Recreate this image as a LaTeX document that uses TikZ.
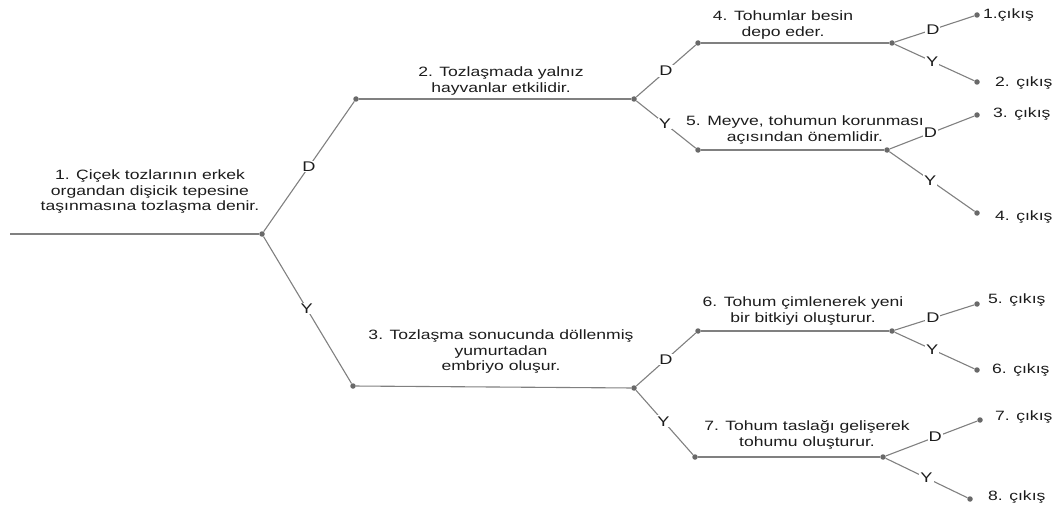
\documentclass[tikz,border=0pt]{standalone}
\usepackage{fontspec}
\setmainfont[FakeStretch=1.3]{Liberation Sans}
\definecolor{linegray}{RGB}{128,128,128}
\definecolor{dotgray}{RGB}{105,105,105}
\definecolor{inkc}{RGB}{28,28,28}
\tikzset{
  dot/.style={circle,fill=dotgray,inner sep=0pt,minimum size=5.5pt},
  conn/.style={draw=linegray,line width=1.1pt},
  txt/.style={align=center,text=inkc,inner sep=0pt,font=\fontsize{13.5}{15.5}\selectfont},
  choice/.style={fill=white,text=inkc,inner sep=1pt,font=\fontsize{14}{14}\selectfont},
  exit/.style={anchor=west,text=inkc,inner sep=0pt,font=\fontsize{13.5}{14}\selectfont},
}
\begin{document}
\begin{tikzpicture}[x=1pt,y=-1pt]
\path[use as bounding box] (0,0) rectangle (1062,508);

% branching points
\coordinate (start) at (10,234);
\node[dot] (n1) at (262,234) {};
\node[dot] (n2) at (356,99) {};
\node[dot] (n3) at (353,386) {};
\node[dot] (n4) at (634,99) {};
\node[dot] (n5) at (698,43) {};
\node[dot] (n6) at (698,150) {};
\node[dot] (n8) at (892,43) {};
\node[dot] (n7) at (887,150) {};
\node[dot] (n9) at (634,388) {};
\node[dot] (n10) at (698,331) {};
\node[dot] (n12) at (695,457) {};
\node[dot] (n11) at (892,331) {};
\node[dot] (n13) at (883,457) {};

% leaves
\node[dot] (c1) at (977,15) {};
\node[dot] (c2) at (977,82) {};
\node[dot] (c3) at (977,115) {};
\node[dot] (c4) at (977,213) {};
\node[dot] (c5) at (977,304) {};
\node[dot] (c6) at (977,370) {};
\node[dot] (c7) at (980,420) {};
\node[dot] (c8) at (970,499) {};

% statement lines
\draw[conn] (start) -- (n1);
\draw[conn] (n2) -- (n4);
\draw[conn] (n5) -- (n8);
\draw[conn] (n6) -- (n7);
\draw[conn] (n3) -- (n9);
\draw[conn] (n10) -- (n11);
\draw[conn] (n12) -- (n13);

% true / false branches
\draw[conn] (n1) -- node[choice,pos=.5]{D} (n2);
\draw[conn] (n1) -- node[choice,pos=.49]{Y} (n3);
\draw[conn] (n4) -- node[choice,pos=.5]{D} (n5);
\draw[conn] (n4) -- node[choice,pos=.48]{Y} (n6);
\draw[conn] (n8) -- node[choice,pos=.48]{D} (c1);
\draw[conn] (n8) -- node[choice,pos=.47]{Y} (c2);
\draw[conn] (n7) -- node[choice,pos=.48]{D} (c3);
\draw[conn] (n7) -- node[choice,pos=.48]{Y} (c4);
\draw[conn] (n9) -- node[choice,pos=.5]{D} (n10);
\draw[conn] (n9) -- node[choice,pos=.48]{Y} (n12);
\draw[conn] (n11) -- node[choice,pos=.48]{D} (c5);
\draw[conn] (n11) -- node[choice,pos=.47]{Y} (c6);
\draw[conn] (n13) -- node[choice,pos=.54]{D} (c7);
\draw[conn] (n13) -- node[choice,pos=.5]{Y} (c8);

% statements
\node[txt] (t1) at (150,192) {1. Çiçek tozlarının erkek\\organdan dişicik tepesine\\taşınmasına tozlaşma denir.};
\node[txt] (t2) at (501,81) {2. Tozlaşmada yalnız\\hayvanlar etkilidir.};
\node[txt] (t3) at (501,352) {3. Tozlaşma sonucunda döllenmiş\\yumurtadan\\embriyo oluşur.};
\node[txt] (t4) at (783,25) {4. Tohumlar besin\\depo eder.};
\node[txt] (t5) at (805,130) {5. Meyve, tohumun korunması\\açısından önemlidir.};
\node[txt] (t6) at (803,311) {6. Tohum çimlenerek yeni\\bir bitkiyi oluşturur.};
\node[txt] (t7) at (807,435) {7. Tohum taslağı gelişerek\\tohumu oluşturur.};

% outcomes
\node[exit] (e1) at (983,15) {1.çıkış};
\node[exit] (e2) at (995,83) {2. çıkış};
\node[exit] (e3) at (993,114) {3. çıkış};
\node[exit] (e4) at (995,217) {4. çıkış};
\node[exit] (e5) at (988,300) {5. çıkış};
\node[exit] (e6) at (992,370) {6. çıkış};
\node[exit] (e7) at (995,417) {7. çıkış};
\node[exit] (e8) at (988,497) {8. çıkış};
\end{tikzpicture}
\end{document}
